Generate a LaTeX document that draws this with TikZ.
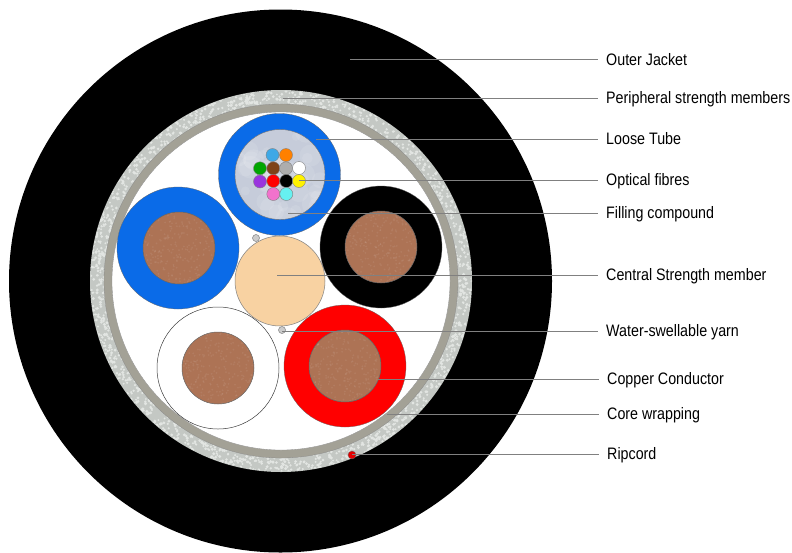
\documentclass[tikz,border=0pt]{standalone}
\usepackage{fontspec}
\setmainfont{Liberation Sans}[FakeStretch=0.86]
\usepackage{xcolor}
\usetikzlibrary{positioning, calc}
\definecolor{tubeblue}{HTML}{0A6BE8}
\definecolor{wrapgray}{HTML}{A3A196}
\definecolor{strengthgray}{HTML}{C4C8C4}
\definecolor{cellgray}{HTML}{E2E5E2}
\definecolor{gelgray}{HTML}{C6CCDA}
\definecolor{coppercol}{HTML}{AD7355}
\definecolor{centralcol}{HTML}{F8D2A2}
\definecolor{linegray}{HTML}{808080}
\definecolor{fibreblue}{HTML}{3EA8E6}
\definecolor{fibrebrown}{HTML}{7E4318}
\definecolor{fibrepurple}{HTML}{9A35DE}
\definecolor{fibrepink}{HTML}{F272CC}
\definecolor{fibrecyan}{HTML}{66F0F0}
\begin{document}
\begin{tikzpicture}[
    x=1pt, y=-1pt,
    part/.style={circle, inner sep=0pt, outer sep=0pt, minimum size=#1},
    tube/.style={part=122pt, draw=black!60, line width=0.3pt},
    copper/.style={part=72pt, fill=coppercol, draw=black!60, line width=0.5pt},
    fibre/.style={part=13pt, draw=black!50, line width=0.4pt},
    yarn/.style={part=7pt, fill=black!20, draw=black!50, line width=0.5pt},
    leader/.style={draw=linegray, line width=1pt},
    callout/.style={anchor=west, inner xsep=8pt, inner ysep=0pt, text height=11.5pt, text depth=0.5pt, font=\fontsize{16.6}{18}\selectfont}
]
    \useasboundingbox (0, 0) rectangle (792, 552);

    % Jacket and strength ring
    \node[part=543pt, fill=black] (jacket) at (280.5, 281) {};
    \node[part=382pt, fill=strengthgray] (strength) at (281, 281) {};
    \begin{scope}
        \clip (281, 281) circle [radius=190.5];
        \pgfmathsetseed{7}
        \foreach \i in {1,...,1300} {
            \pgfmathsetmacro{\ang}{rnd*360}
            \pgfmathsetmacro{\rad}{176+rnd*15}
            \pgfmathsetmacro{\cell}{1.0+rnd*0.7}
            \fill[cellgray] ($(281, 281)+(\ang:\rad)$) circle [radius=\cell];
        }
    \end{scope}
    \node[part=354pt, fill=wrapgray, draw=black!45, line width=0.3pt] (wrap) at (281, 281) {};
    \node[part=338pt, fill=white, draw=black!45, line width=0.3pt] (core) at (281, 281) {};

    % Ripcord and yarns
    \node[part=8pt, fill=red!90!black, draw=black!60, line width=0.3pt] (ripcord) at (352, 455) {};
    \node[yarn] (yarn1) at (256, 238) {};
    \node[yarn] (yarn2) at (282, 330) {};

    % Central strength member
    \node[part=90pt, fill=centralcol, draw=black!50, line width=0.5pt] (central) at (280, 281) {};

    % Conductors
    \node[tube, fill=tubeblue] (bluecore) at (178, 248) {};
    \node[copper] (copper1) at (179, 248) {};
    \node[tube, fill=black] (blackcore) at (381, 247) {};
    \node[copper] (copper2) at (381, 247) {};
    \node[tube, fill=white, draw=black!75, line width=0.5pt] (whitecore) at (218, 368) {};
    \node[copper] (copper3) at (218, 368) {};
    \node[tube, fill=red] (redcore) at (345, 366) {};
    \node[copper] (copper4) at (345, 366) {};

    % Copper grain
    \foreach \cx/\cy in {179/248, 381/247, 218/368, 345/366} {
        \begin{scope}
            \clip (\cx, \cy) circle [radius=35.5];
            \foreach \i in {1,...,260} {
                \pgfmathsetmacro{\dx}{(rnd-0.5)*72}
                \pgfmathsetmacro{\dy}{(rnd-0.5)*72}
                \fill[white, opacity=0.07] (\cx+\dx, \cy+\dy) circle [radius=1];
            }
        \end{scope}
    }

    % Loose tube with gel
    \node[tube, fill=tubeblue] (tube) at (279.5, 174.5) {};
    \node[part=90pt, fill=gelgray, draw=black!55, line width=0.4pt] (gel) at (280, 174.5) {};
    \begin{scope}
        \clip (280, 174.5) circle [radius=44.5];
        \foreach \i in {1,...,45} {
            \pgfmathsetmacro{\dx}{(rnd-0.5)*90}
            \pgfmathsetmacro{\dy}{(rnd-0.5)*90}
            \pgfmathsetmacro{\blob}{4+rnd*9}
            \fill[white, opacity=0.1] (280+\dx, 174.5+\dy) circle [radius=\blob];
        }
    \end{scope}

    % Fibres
    \node[fibre, fill=fibreblue] (f1) at (272.5, 155) {};
    \node[fibre, fill=orange] (f2) at (286, 155) {};
    \node[fibre, fill=green!65!black] (f3) at (260, 168.3) {};
    \node[fibre, fill=fibrebrown] (f4) at (273.3, 168.3) {};
    \node[fibre, fill=black!32] (f5) at (286, 168.3) {};
    \node[fibre, fill=white] (f6) at (299, 168) {};
    \node[fibre, fill=fibrepurple] (f7) at (260, 181.5) {};
    \node[fibre, fill=red] (f8) at (273.3, 181) {};
    \node[fibre, fill=black] (f9) at (286.3, 181) {};
    \node[fibre, fill=yellow] (f10) at (299, 181) {};
    \node[fibre, fill=fibrepink] (f11) at (273.3, 194) {};
    \node[fibre, fill=fibrecyan] (f12) at (286.3, 194) {};

    % Labels
    \node[callout] (jacketlbl) at (598, 59.5) {Outer Jacket};
    \node[callout] (strengthlbl) at (598, 98) {Peripheral strength members};
    \node[callout] (tubelbl) at (598, 139) {Loose Tube};
    \node[callout] (fibrelbl) at (598, 180) {Optical fibres};
    \node[callout] (gellbl) at (598, 213) {Filling compound};
    \node[callout] (centrallbl) at (598, 275) {Central Strength member};
    \node[callout] (yarnlbl) at (598, 331) {Water-swellable yarn};
    \node[callout] (copperlbl) at (599, 379) {Copper Conductor};
    \node[callout] (wraplbl) at (599, 414) {Core wrapping};
    \node[callout] (ripcordlbl) at (599, 454) {Ripcord};

    % Start points of leaders
    \coordinate (jacketpt) at (350, 59.5);
    \coordinate (strengthpt) at (283, 98);
    \coordinate (tubept) at (316, 139);
    \coordinate (fibrept) at (299, 180);
    \coordinate (gelpt) at (288, 213);
    \coordinate (centralpt) at (277, 275);
    \coordinate (yarnpt) at (282, 331);
    \coordinate (copperpt) at (378, 379);
    \coordinate (wrappt) at (387, 414);
    \coordinate (ripcordpt) at (352, 454);

    \foreach \pt/\lbl in {jacketpt/jacketlbl, strengthpt/strengthlbl, tubept/tubelbl, fibrept/fibrelbl, gelpt/gellbl, centralpt/centrallbl, yarnpt/yarnlbl, copperpt/copperlbl, wrappt/wraplbl, ripcordpt/ripcordlbl}
        \draw[leader] (\pt) -- (\lbl.west);
\end{tikzpicture}
\end{document}
